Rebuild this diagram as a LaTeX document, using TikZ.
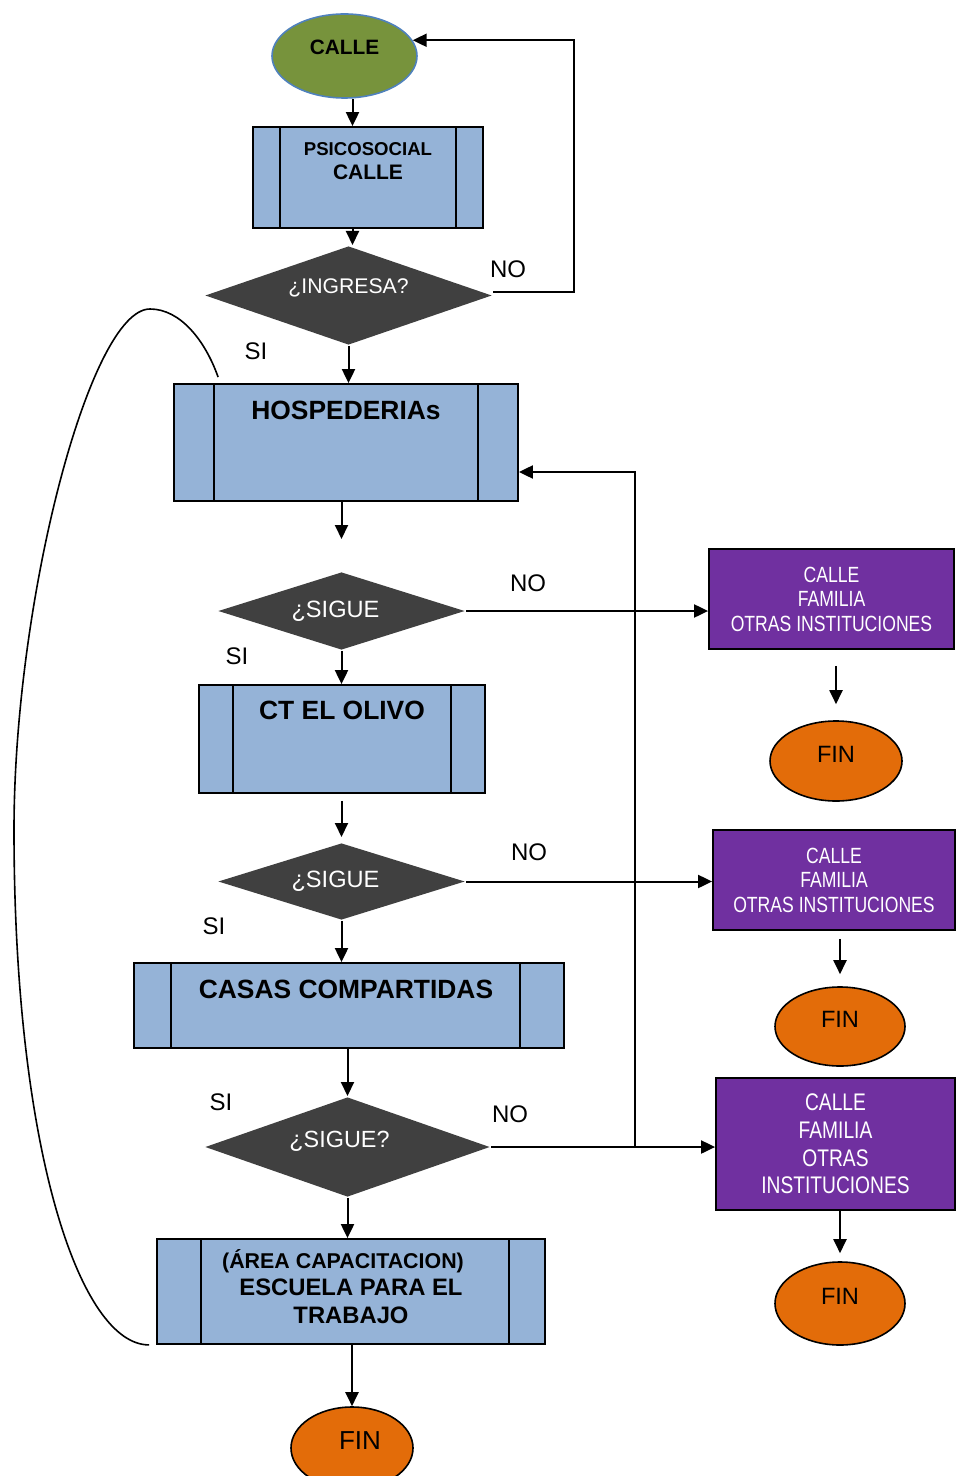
\documentclass[tikz,border=0pt]{standalone}
\usepackage{fontspec}
\setmainfont{Liberation Sans}
\newfontfamily\narrowfont[FakeStretch=0.8]{Liberation Sans}
\usepackage{tikz}
\usetikzlibrary{arrows.meta,calc,shapes.geometric}

\definecolor{boxblue}{HTML}{95B3D7}
\definecolor{olive}{HTML}{77933C}
\definecolor{edgeblue}{HTML}{4F81BD}
\definecolor{darkgray}{HTML}{404040}
\definecolor{purp}{HTML}{7030A0}
\definecolor{orng}{HTML}{E36C09}

\tikzset{
  proc/.style={rectangle, draw, line width=0.9pt, fill=boxblue, inner sep=0pt},
  proctext/.style={anchor=north, inner sep=0pt, align=center, font=\fontsize{13.2}{16}\selectfont\bfseries},
  ask/.style={diamond, aspect=3, fill=darkgray, inner sep=0pt, text=white},
  outbox/.style={rectangle, draw, line width=0.9pt, fill=purp, inner sep=0pt, text=white, align=center},
  finnode/.style={ellipse, draw, line width=0.8pt, fill=orng, inner sep=0pt, text depth=7pt,
                  font=\fontsize{11.8}{14}\selectfont},
  tag/.style={font=\fontsize{12}{14}\selectfont},
}

\begin{document}
\begin{tikzpicture}[x=0.5pt, y=-0.5pt, >={Triangle[length=7pt,width=6.5pt]}, line width=1pt]
  \useasboundingbox (0,0) rectangle (955,1476);

  % columna principal
  \node (calle) at (344.5,56) [ellipse, draw=edgeblue, line width=0.8pt, fill=olive, inner sep=0pt, text depth=9pt,
        minimum width=72.5pt, minimum height=42pt, font=\fontsize{10.4}{12}\selectfont\bfseries] {CALLE};
  \node (ps) at (368,177.5) [proc, minimum width=115pt, minimum height=50.5pt,
        label={[proctext, yshift=-7.5pt, font=\fontsize{9.3}{12}\selectfont\bfseries]north:PSICOSOCIAL\\{\fontsize{10.5}{12}\selectfont CALLE}}] {};
  \node (ing) at (348.5,295.5) [ask, minimum width=143.5pt, minimum height=49.5pt, text depth=9pt,
        font=\fontsize{10.6}{12}\selectfont] {¿INGRESA?};
  \node (hosp) at (346,442.5) [proc, minimum width=172pt, minimum height=58.5pt,
        label={[proctext, yshift=-8.5pt]north:HOSPEDERIAs}] {};
  \node (d1) at (341.5,611) [ask, minimum width=123.5pt, minimum height=39pt,
        font=\fontsize{11.8}{14}\selectfont] {¿SIGUE\hspace*{6pt}};
  \node (ct) at (342,739) [proc, minimum width=143pt, minimum height=54pt,
        label={[proctext, yshift=-8pt]north:CT EL OLIVO}] {};
  \node (d2) at (341.5,881.5) [ask, minimum width=123.5pt, minimum height=38.5pt,
        font=\fontsize{11.8}{14}\selectfont] {¿SIGUE\hspace*{6pt}};
  \node (casas) at (349,1005.5) [proc, minimum width=215pt, minimum height=42.5pt,
        label={[proctext, yshift=-8.5pt, xshift=-1.5pt]north:CASAS COMPARTIDAS}] {};
  \node (d3) at (347.5,1147) [ask, minimum width=142.5pt, minimum height=50pt, text depth=8pt,
        font=\fontsize{11.7}{14}\selectfont] {¿SIGUE?\hspace*{8pt}};
  \node (esc) at (351,1291.5) [proc, minimum width=194pt, minimum height=52.5pt,
        label={[proctext, yshift=-5pt, font=\fontsize{11.9}{13.8}\selectfont\bfseries]north:{{\fontsize{10.7}{13.8}\selectfont (ÁREA CAPACITACION)\hspace*{8pt}}\\ESCUELA PARA EL\\TRABAJO}}] {};
  \node (fin4) at (352,1448) [finnode, minimum width=61pt, minimum height=41pt,
        font=\fontsize{13}{15}\selectfont] {\hspace*{8pt}FIN};

  % salidas
  \node (p1) at (831.5,599) [outbox, minimum width=122.5pt, minimum height=50pt,
        font=\narrowfont\fontsize{11}{12.25}\selectfont] {CALLE\\FAMILIA\\OTRAS INSTITUCIONES};
  \node (fin1) at (836,761) [finnode, minimum width=66pt, minimum height=40pt] {FIN};
  \node (p2) at (834,880) [outbox, minimum width=121pt, minimum height=50pt,
        font=\narrowfont\fontsize{11}{12.25}\selectfont] {CALLE\\FAMILIA\\OTRAS INSTITUCIONES};
  \node (fin2) at (840,1026.5) [finnode, minimum width=65pt, minimum height=39.5pt] {FIN};
  \node (p3) at (835.5,1144) [outbox, minimum width=119.5pt, minimum height=66pt,
        font=\narrowfont\fontsize{12}{13.8}\selectfont] {CALLE\\FAMILIA\\OTRAS\\INSTITUCIONES};
  \node (fin3) at (840,1303.5) [finnode, minimum width=65pt, minimum height=41.5pt] {FIN};

  % lineas internas de los subprocesos
  \foreach \n/\l/\r in {ps/28/28, hosp/41/41, ct/35/35, casas/38/45, esc/45/37}
    \draw[line width=0.9pt] ($(\n.north west)+(\l,0)$) -- ($(\n.south west)+(\l,0)$)
                            ($(\n.north east)+(-\r,0)$) -- ($(\n.south east)+(-\r,0)$);

  % etiquetas SI / NO
  \node (no0) at (508,269) [tag] {NO};
  \node (si0) at (256,351) [tag] {SI};
  \node (no1) at (528,583) [tag] {NO};
  \node (si1) at (237,656) [tag] {SI};
  \node (no2) at (529,852) [tag] {NO};
  \node (si2) at (214,926) [tag] {SI};
  \node (no3) at (510,1114) [tag] {NO};
  \node (si3) at (221,1102) [tag] {SI};

  \coordinate (jn) at (635,1147);

  % flechas
  \draw[->] ([xshift=4pt]calle.south) -- ([xshift=4pt]calle.south |- ps.north);
  \draw[->] ([xshift=2pt]ing.north |- ps.south) -- ([xshift=2pt]ing.north);
  \draw[->] ([yshift=1.5pt]ing.east) -- ++(81,0) |- (calle.13);
  \draw[->] (ing.south) -- (ing.south |- hosp.north);
  \draw[->, shorten >=16pt] (hosp.south -| d1) -- (d1.north);
  \draw[->] (d1.east) -- (d1.east -| p1.west);
  \draw[->] (d1.south) -- (d1.south |- ct.north);
  \draw[->, shorten <=3.5pt, shorten >=2.5pt] (ct.south -| d2) -- (d2.north);
  \draw[->] (d2.east) -- (d2.east -| p2.west);
  \draw[->] (d2.south) -- (d2.south |- casas.north);
  \draw[->] (casas.south -| d3) -- (d3.north);
  \draw[->] (d3.east) -- (d3.east -| p3.west);
  \draw[->] (jn) |- ($(hosp.east)+(0,29.5)$);
  \draw[->] (d3.south) -- (d3.south |- esc.north);
  \draw[->] (esc.south -| fin4) -- (fin4.north);
  \draw[->, shorten <=8pt, shorten >=8pt] (p1.south -| fin1) -- (fin1.north);
  \draw[->, shorten <=4pt, shorten >=6pt] (p2.south -| fin2) -- (fin2.north);
  \draw[->, shorten >=4pt] (p3.south -| fin3) -- (fin3.north);

  % retorno curvo
  \draw[line width=0.8pt] ($(esc.south west)+(-7,0)$) .. controls (80,1345) and (14,1150) .. (14,830)
        .. controls (14,600) and (90,309) .. (150,309)
        .. controls (180,309) and (205,340) .. ($(hosp.north west)+(45,-6)$);
\end{tikzpicture}
\end{document}
